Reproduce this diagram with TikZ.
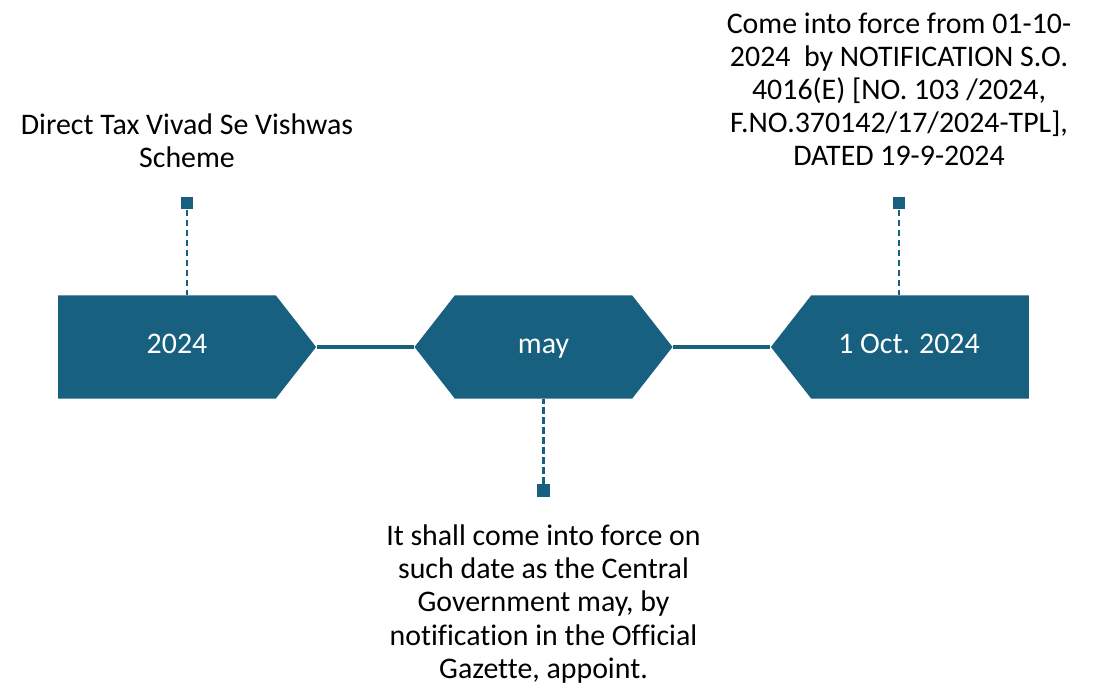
\documentclass[tikz,border=0pt]{standalone}
\usepackage{fontspec}
\setmainfont{Carlito}[Ligatures=NoCommon]
\usepackage{xcolor}
\usepackage{tikz}
\usetikzlibrary{arrows.meta,positioning,shapes.symbols}

\definecolor{stepblue}{HTML}{17607F}

\begin{document}
\begin{tikzpicture}[
  milestone/.style={signal, fill=stepblue, draw=none, text=white,
                    signal pointer angle=104, minimum width=5.16cm,
                    minimum height=2.06cm, inner sep=0pt,
                    text height=0.9em, text depth=0.15em,
                    font=\fontsize{17}{18.8}\selectfont},
  marker/.style={rectangle, fill=stepblue, minimum size=0.25cm, inner sep=0pt},
  link/.style={stepblue, line width=2pt},
  leader/.style={stepblue, line width=1.3pt, dash pattern=on 0.13cm off 0.07cm},
  note/.style={align=center, font=\fontsize{17}{18.8}\selectfont},
]
\useasboundingbox (0,0) rectangle (21.98,-13.78);

% === Timeline milestones ===
\node[milestone, signal to=east] (y2024) at (3.34,-6.94) {\hspace*{0.4cm}2024};
\node[milestone, signal to=east and west] (may) at (10.87,-6.94) {may};
\node[milestone, signal to=west] (oct) at (18.4,-6.94) {1 Oct. 2024\hspace*{0.44cm}};

\draw[link] (y2024.east) -- (may.west);
\draw[link] (may.east) -- (oct.west);

% === Markers and leaders ===
\node[marker] (m1) at (3.74,-4.06) {};
\node[marker] (m2) at (10.87,-9.81) {};
\node[marker] (m3) at (17.98,-4.06) {};

\draw[leader] (m1) -- (m1 |- y2024.north);
\draw[leader] (m2) -- (m2 |- may.south);
\draw[leader] (m3) -- (m3 |- oct.north);

% === Notes ===
\node[note] (n1) at (3.74,-2.82)
  {Direct Tax Vivad Se Vishwas\\Scheme};
\node[note] (n2) at (10.87,-12.08)
  {It shall come into force on\\such date as the Central\\
   Government may, by\\notification in the Official\\Gazette, appoint.};
\node[note] (n3) at (17.98,-1.79)
  {Come into force from 01-10-\\2024\ \ by NOTIFICATION S.O.\\
   4016(E) [NO. 103 /2024,\\F.NO.370142/17/2024-TPL],\\DATED 19-9-2024};

\end{tikzpicture}
\end{document}
